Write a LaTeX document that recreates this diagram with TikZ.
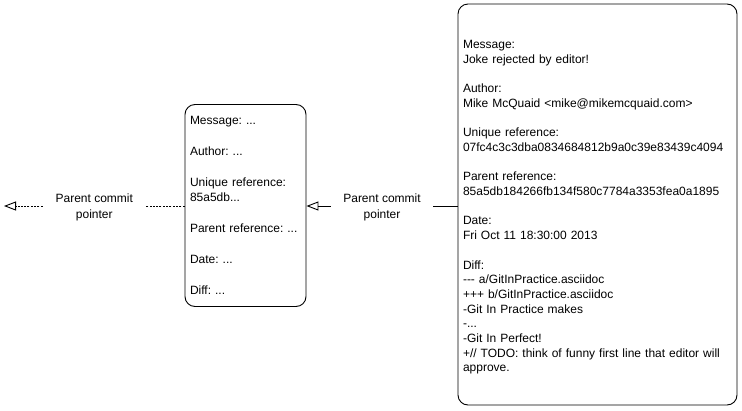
\documentclass[tikz,border=0pt]{standalone}
\usepackage{fontspec}
\setmainfont{Liberation Sans}
\usepackage{tikz}
\usetikzlibrary{arrows.meta, positioning}
\tikzset{
  commit/.style={rectangle, rounded corners=10pt, draw=black, line width=0.9pt, fill=white,
    font=\fontsize{12}{14.7}\selectfont, align=left, inner sep=5pt},
  ptr/.style={-{Triangle[open, length=12pt, width=9pt]}, draw=black, line width=0.9pt},
  ptr/dash/.style={ptr, dash pattern=on 2pt off 1.3pt},
  lb/.style={font=\fontsize{12}{16}\selectfont, fill=white, align=center, inner xsep=12pt, inner ysep=2pt, yshift=-1.5pt},
}
\newcommand{\gapln}{\\[\baselineskip]}
\newcommand{\hy}{\mbox{-}}
\frenchspacing

\begin{document}
\begin{tikzpicture}[x=1pt, y=-1pt]
\useasboundingbox (0,0) rectangle (742,410);

%% ===== NODES =====
% -- newest commit --
\node[commit, minimum width=279pt, minimum height=401pt, text width=269pt] (C2) at (597.5,204.5) {%
  \rule{0pt}{14pt}Message:\\Joke rejected by editor!\gapln
  Author:\\Mike McQuaid <mike@mikemcquaid.com>\gapln
  Unique reference:\\07fc4c3c3dba0834684812b9a0c39e83439c4094\gapln
  Parent reference:\\85a5db184266fb134f580c7784a3353fea0a1895\gapln
  Date:\\Fri Oct 11 18:30:00 2013\gapln
  Diff:\\\hy\hy\hy{} a/GitInPractice.asciidoc\\+++ b/GitInPractice.asciidoc\\-Git In Practice makes\\-...\\-Git In Perfect!\\
  +// TODO: think of funny first line that editor will\\approve.};

% -- parent commit --
\node[commit, font=\fontsize{12}{15.4}\selectfont, minimum width=121pt, minimum height=202pt, text width=111pt] (C1) at (245.5,205.5) {%
  Message: ...\gapln
  Author: ...\gapln
  Unique reference:\\85a5db...\gapln
  Parent reference: ...\gapln
  Date: ...\gapln
  Diff: ...};

\coordinate (C0) at (4,206);

%% ===== POINTERS =====
\draw[ptr] (C2.west |- 0,206) -- node[lb]{Parent commit\\pointer} (C1.east |- 0,206);
\draw[ptr/dash] (C1.west |- 0,206) -- node[lb]{Parent commit\\pointer} (C0);
\end{tikzpicture}
\end{document}
